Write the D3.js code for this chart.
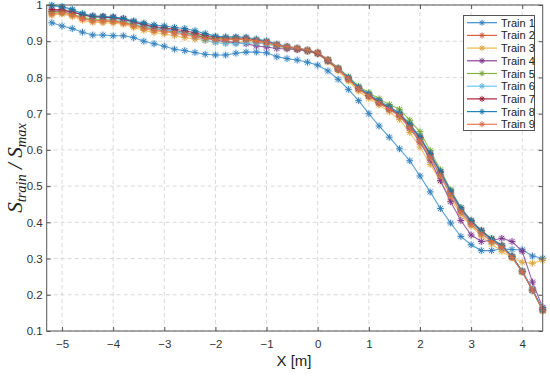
<!DOCTYPE html>
<html><head><meta charset="utf-8">
<script src="https://cdn.jsdelivr.net/npm/d3@7"></script>
<style>body{margin:0;background:#fff}svg{display:block}</style>
</head><body>
<script>
const xValues = [-5.2,-5.0,-4.8,-4.6,-4.4,-4.2,-4.0,-3.8,-3.6,-3.4,-3.2,-3.0,-2.8,-2.6,-2.4,-2.2,-2.0,-1.8,-1.6,-1.4,-1.2,-1.0,-0.8,-0.6,-0.4,-0.2,0.0,0.2,0.4,0.6,0.8,1.0,1.2,1.4,1.6,1.8,2.0,2.2,2.4,2.6,2.8,3.0,3.2,3.4,3.6,3.8,4.0,4.2,4.4];

const train1 = [0.951,0.942,0.935,0.925,0.917,0.917,0.915,0.915,0.910,0.900,0.893,0.886,0.878,0.874,0.869,0.864,0.862,0.862,0.867,0.870,0.870,0.868,0.857,0.852,0.848,0.842,0.834,0.818,0.795,0.767,0.736,0.700,0.666,0.635,0.603,0.570,0.528,0.484,0.438,0.398,0.361,0.338,0.322,0.322,0.327,0.325,0.324,0.307,0.301];
const train2 = [0.982,0.982,0.975,0.963,0.958,0.957,0.956,0.952,0.945,0.938,0.932,0.929,0.925,0.921,0.916,0.910,0.906,0.905,0.905,0.904,0.899,0.895,0.887,0.882,0.878,0.873,0.866,0.845,0.822,0.795,0.769,0.749,0.731,0.714,0.696,0.664,0.628,0.580,0.530,0.476,0.430,0.396,0.370,0.349,0.332,0.304,0.264,0.214,0.158];
const train3 = [0.972,0.975,0.968,0.958,0.952,0.951,0.950,0.947,0.938,0.930,0.924,0.920,0.915,0.910,0.906,0.902,0.898,0.897,0.898,0.899,0.895,0.892,0.886,0.881,0.877,0.872,0.865,0.843,0.818,0.790,0.762,0.742,0.724,0.705,0.684,0.648,0.608,0.560,0.515,0.465,0.422,0.390,0.362,0.340,0.320,0.302,0.290,0.287,0.295];
const train4 = [0.983,0.985,0.980,0.973,0.968,0.967,0.965,0.962,0.953,0.945,0.938,0.934,0.929,0.925,0.918,0.910,0.903,0.899,0.896,0.893,0.887,0.884,0.880,0.879,0.877,0.873,0.866,0.846,0.823,0.797,0.770,0.750,0.730,0.712,0.694,0.660,0.622,0.572,0.515,0.457,0.405,0.365,0.347,0.350,0.356,0.347,0.320,0.235,0.165];
const train5 = [0.980,0.980,0.975,0.966,0.961,0.960,0.958,0.954,0.946,0.939,0.934,0.931,0.927,0.924,0.918,0.912,0.908,0.906,0.906,0.905,0.901,0.897,0.889,0.884,0.880,0.875,0.868,0.849,0.827,0.802,0.776,0.758,0.741,0.725,0.712,0.682,0.650,0.598,0.545,0.490,0.440,0.405,0.378,0.355,0.336,0.306,0.265,0.213,0.155];
const train6 = [0.998,0.993,0.985,0.974,0.967,0.965,0.963,0.958,0.950,0.942,0.936,0.932,0.927,0.922,0.913,0.903,0.896,0.893,0.893,0.895,0.895,0.893,0.887,0.883,0.879,0.874,0.867,0.847,0.824,0.797,0.770,0.751,0.733,0.716,0.699,0.666,0.630,0.582,0.532,0.478,0.432,0.398,0.372,0.350,0.333,0.306,0.266,0.216,0.162];
const train7 = [0.988,0.987,0.981,0.973,0.968,0.967,0.965,0.961,0.953,0.946,0.940,0.937,0.933,0.929,0.923,0.916,0.911,0.909,0.909,0.908,0.903,0.899,0.890,0.884,0.879,0.874,0.867,0.847,0.823,0.796,0.769,0.750,0.732,0.715,0.698,0.667,0.634,0.587,0.538,0.484,0.436,0.402,0.376,0.353,0.335,0.306,0.264,0.213,0.158];
const train8 = [0.999,0.996,0.988,0.976,0.970,0.969,0.967,0.963,0.956,0.950,0.945,0.942,0.938,0.935,0.929,0.921,0.914,0.912,0.912,0.911,0.906,0.901,0.892,0.886,0.881,0.876,0.869,0.848,0.825,0.800,0.773,0.754,0.736,0.719,0.702,0.671,0.636,0.590,0.540,0.487,0.440,0.405,0.378,0.355,0.336,0.306,0.264,0.212,0.160];
const train9 = [0.975,0.978,0.972,0.962,0.956,0.955,0.954,0.950,0.942,0.935,0.929,0.926,0.922,0.918,0.912,0.907,0.904,0.904,0.905,0.905,0.901,0.897,0.890,0.885,0.881,0.876,0.869,0.849,0.824,0.796,0.768,0.748,0.729,0.712,0.694,0.661,0.625,0.578,0.528,0.474,0.428,0.394,0.368,0.347,0.331,0.303,0.263,0.213,0.157];

const seriesNames = ["Train 1","Train 2","Train 3","Train 4","Train 5","Train 6","Train 7","Train 8","Train 9"];
const seriesValues = [train1,train2,train3,train4,train5,train6,train7,train8,train9];
const seriesColors = ["#3a8fd0","#e0603a","#f2b949","#8a3f9a","#82b540","#6ccbf0","#a8243c","#1f86b8","#ec7a50"];

const xTicks = [-5,-4,-3,-2,-1,0,1,2,3,4];
const yTicks = [0.1,0.2,0.3,0.4,0.5,0.6,0.7,0.8,0.9,1];

const W = 550, H = 376;
const L = 46.7, R = 542.7, T = 5, B = 331;

const svg = d3.select("body").append("svg").attr("width", W).attr("height", H)
  .style("font-family", "'Liberation Sans', Arial, sans-serif");

const x = d3.scaleLinear().domain([-5.3, 4.4]).range([L, R]);
const y = d3.scaleLinear().domain([0.1, 1]).range([B, T]);

// grid
const grid = svg.append("g").attr("stroke", "#d9d9d9").attr("stroke-dasharray", "4,3").attr("stroke-width", 1);
grid.selectAll(".gx").data(xTicks).join("line")
  .attr("x1", d => x(d)).attr("x2", d => x(d)).attr("y1", T).attr("y2", B);
grid.selectAll(".gy").data(yTicks).join("line")
  .attr("y1", d => y(d)).attr("y2", d => y(d)).attr("x1", L).attr("x2", R);

// series
const clip = svg.append("clipPath").attr("id", "clip").append("rect")
  .attr("x", L - 6).attr("y", T - 6).attr("width", R - L + 12).attr("height", B - T + 12);
const plotG = svg.append("g").attr("clip-path", "url(#clip)");
const line = d3.line().x((d, i) => x(xValues[i])).y(d => y(d));

function asterisk(g, cx, cy, r, color) {
  const d = r * 0.72;
  g.append("path")
    .attr("d", `M${cx - r},${cy}L${cx + r},${cy}M${cx},${cy - r}L${cx},${cy + r}M${cx - d},${cy - d}L${cx + d},${cy + d}M${cx - d},${cy + d}L${cx + d},${cy - d}`)
    .attr("stroke", color).attr("stroke-width", 1).attr("fill", "none");
}

seriesValues.forEach((vals, k) => {
  const col = seriesColors[k];
  plotG.append("path").datum(vals).attr("d", line)
    .attr("fill", "none").attr("stroke", col).attr("stroke-width", 1.1).attr("stroke-opacity", 0.85);
  const mg = plotG.append("g");
  vals.forEach((v, i) => {
    mg.append("circle").attr("cx", x(xValues[i])).attr("cy", y(v)).attr("r", 4)
      .attr("fill", col).attr("fill-opacity", 0.12);
    asterisk(mg, x(xValues[i]), y(v), 3.3, d3.color(col).darker(0.3));
  });
});

// axes
const axCol = "#555";
const xAxis = svg.append("g").attr("transform", `translate(0,${B})`)
  .call(d3.axisBottom(x).tickValues(xTicks).tickSize(-4).tickPadding(9).tickSizeOuter(0));
const xAxisTop = svg.append("g").attr("transform", `translate(0,${T})`)
  .call(d3.axisTop(x).tickValues(xTicks).tickSize(-4).tickFormat("").tickSizeOuter(0));
const yAxis = svg.append("g").attr("transform", `translate(${L},0)`)
  .call(d3.axisLeft(y).tickValues(yTicks).tickSize(-4).tickPadding(4).tickFormat(d => d3.format("~g")(d)).tickSizeOuter(0));
const yAxisR = svg.append("g").attr("transform", `translate(${R},0)`)
  .call(d3.axisRight(y).tickValues(yTicks).tickSize(-4).tickFormat("").tickSizeOuter(0));
[xAxis, xAxisTop, yAxis, yAxisR].forEach(a => {
  a.select(".domain").remove();
  a.selectAll("line").attr("stroke", axCol);
  a.selectAll("text").attr("fill", "#333").style("font-size", "11.5px").style("font-family", "'Liberation Sans', Arial, sans-serif");
});
svg.append("rect").attr("x", L).attr("y", T).attr("width", R - L).attr("height", B - T)
  .attr("fill", "none").attr("stroke", axCol).attr("stroke-width", 1);

// axis labels
svg.append("text").attr("x", 294).attr("y", 366).attr("text-anchor", "middle")
  .attr("fill", "#222").style("font-size", "15px").text("X [m]");

const yl = svg.append("text").attr("transform", `translate(22,${(T + B) / 2}) rotate(-90)`)
  .attr("text-anchor", "middle").attr("fill", "#222")
  .style("font-family", "'Liberation Serif', 'Times New Roman', serif").style("font-style", "italic").style("font-size", "21px");
yl.append("tspan").text("S");
yl.append("tspan").attr("dy", 4).style("font-size", "14.5px").text("train");
yl.append("tspan").attr("dy", -4).text(" / S");
yl.append("tspan").attr("dy", 4).style("font-size", "14.5px").text("max");

// legend
const lg = svg.append("g");
lg.append("rect").attr("x", 463.5).attr("y", 15.5).attr("width", 71).attr("height", 115)
  .attr("fill", "#fff").attr("stroke", "#555").attr("stroke-width", 1);
seriesNames.forEach((name, k) => {
  const cy = 22.7 + k * 12.7;
  const col = seriesColors[k];
  lg.append("line").attr("x1", 467).attr("x2", 497).attr("y1", cy).attr("y2", cy)
    .attr("stroke", col).attr("stroke-width", 1.2);
  asterisk(lg, 482, cy, 3, d3.color(col).darker(0.3));
  lg.append("text").attr("x", 501).attr("y", cy + 4).attr("fill", "#222")
    .style("font-size", "11px").text(name);
});
</script>
</body></html>
